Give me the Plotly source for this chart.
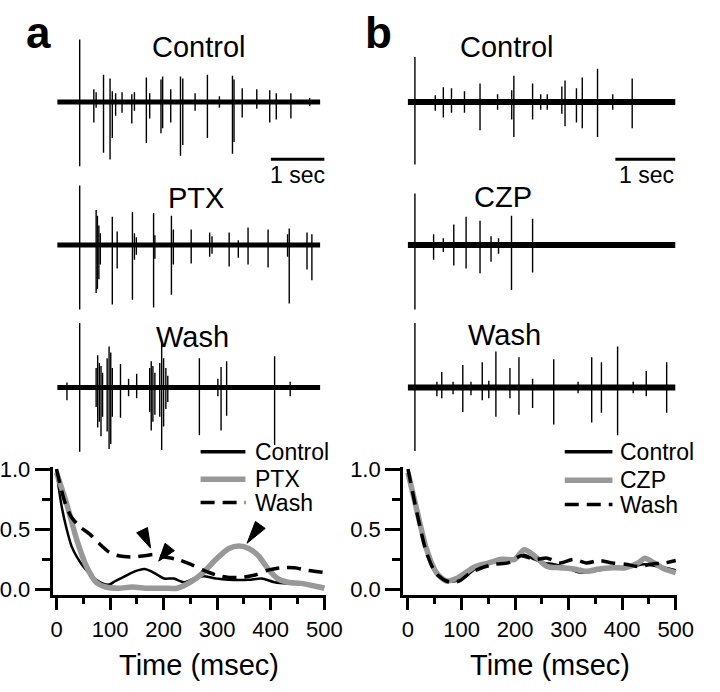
import plotly.graph_objects as go

# ---------------- DATA ----------------
# Extracellular traces: spike events (time s, upward amplitude, downward amplitude) in a.u.
TRACE_END_A = 4.91   # s
TRACE_END_B = 4.46   # s

STIM_A = [0.42, 0.42, 0.42]
STIM_A_UP = [64, 61, 66]
STIM_A_DN = [66, 66, 66]
STIM_B = [0.12, 0.12, 0.12]
STIM_B_UP = [46, 53, 66]
STIM_B_DN = [64, 66, 65]

ctrl_a_t = [0.684, 0.727, 0.865, 0.987, 1.029, 1.091, 1.211, 1.393, 1.442, 1.665, 1.727, 1.938, 1.969,
            2.12, 2.302, 2.345, 2.575, 2.805, 3.029, 3.273, 3.302, 3.455, 3.727, 3.969, 4.091, 4.364, 4.715]
ctrl_a_up = [13, 10, 28, 24, 11, 9, 10, 8, 10, 25, 9, 23, 26, 13, 26, 24, 9, 28, 6, 27, 23, 14, 13, 12, 9, 9, 4]
ctrl_a_dn = [21, 6, 52, 59, 37, 14, 11, 22, 9, 42, 17, 32, 27, 21, 55, 44, 9, 37, 6, 53, 41, 16, 7, 21, 18, 17, 4]

ptx_t = [0.727, 0.751, 0.778, 0.805, 1.029, 1.12, 1.405, 1.442, 1.478, 1.8, 1.824, 2.133, 2.169,
         2.502, 2.847, 2.891, 3.211, 3.382, 3.564, 3.938, 4.302, 4.333, 4.665, 4.756]
ptx_up = [36, 30, 20, 12, 29, 14, 34, 12, 8, 33, 10, 30, 16, 16, 13, 9, 13, 5, 18, 16, 11, 17, 13, 11]
ptx_dn = [49, 45, 35, 20, 61, 24, 56, 15, 10, 64, 14, 51, 20, 19, 12, 9, 22, 13, 20, 23, 12, 60, 25, 36]

wash_a_t = [0.182, 0.727, 0.756, 0.787, 0.818, 0.847, 0.933, 0.969, 1.0, 1.029, 1.182, 1.333, 1.484,
            1.727, 1.756, 1.787, 1.824, 1.915, 1.951, 1.987, 2.029, 2.065, 2.655, 3.0, 3.06, 3.164, 4.06, 4.351]
wash_a_up = [5, 20, 33, 25, 22, 15, 30, 42, 36, 20, 24, 9, 14, 20, 27, 22, 15, 25, 47, 30, 20, 12, 30, 9, 21, 27, 32, 6]
wash_a_dn = [13, 20, 41, 35, 50, 30, 45, 63, 58, 30, 31, 9, 11, 25, 44, 35, 28, 30, 64, 40, 22, 15, 49, 9, 44, 29, 59, 9]

ctrl_b_t = [0.459, 0.593, 0.729, 0.945, 1.204, 1.496, 1.731, 1.767, 2.079, 2.214, 2.323, 2.566, 2.619,
            2.809, 2.906, 3.16, 3.413, 3.737]
ctrl_b_up = [7, 15, 14, 11, 19, 8, 12, 27, 19, 8, 8, 16, 22, 14, 25, 34, 8, 24]
ctrl_b_dn = [9, 16, 11, 11, 29, 8, 18, 36, 18, 8, 8, 12, 25, 21, 27, 36, 8, 27]

czp_t = [0.431, 0.593, 0.767, 0.972, 1.204, 1.387, 1.512, 1.728, 2.079]
czp_up = [11, 7, 21, 29, 25, 9, 7, 30, 27]
czp_dn = [15, 7, 21, 24, 29, 17, 9, 46, 28]

wash_b_t = [0.486, 0.567, 0.755, 0.917, 1.053, 1.241, 1.35, 1.468, 1.702, 1.852, 2.079, 2.431, 2.836,
            3.063, 3.225, 3.494, 3.754, 3.971, 4.311]
wash_b_up = [6, 16, 6, 23, 6, 26, 7, 37, 20, 31, 9, 29, 6, 31, 26, 42, 6, 17, 26]
wash_b_dn = [9, 11, 7, 25, 8, 13, 11, 30, 11, 28, 21, 38, 6, 36, 26, 49, 6, 9, 26]

# Autocorrelograms (lag in msec, normalized value)
a_ctrl_lag = [0, 4, 10, 19, 28, 38, 50, 62, 74, 86, 98, 110, 128, 141, 153, 165, 177, 189, 201, 219,
              238, 256, 274, 298, 322, 359, 383, 407, 432, 462, 500]
a_ctrl_val = [1.0, 0.85, 0.68, 0.5, 0.36, 0.27, 0.19, 0.13, 0.08, 0.05, 0.04, 0.07, 0.11, 0.14, 0.16,
              0.17, 0.15, 0.12, 0.09, 0.09, 0.06, 0.09, 0.11, 0.09, 0.08, 0.08, 0.09, 0.06, 0.05, 0.05, 0.02]
a_ptx_lag = [0, 19, 38, 56, 74, 92, 116, 141, 171, 201, 225, 250, 274, 298, 322, 341, 359, 377, 395,
             413, 432, 456, 480, 500]
a_ptx_val = [0.97, 0.71, 0.41, 0.19, 0.06, 0.02, 0.01, 0.02, 0.01, 0.01, 0.01, 0.06, 0.14, 0.25, 0.34,
             0.36, 0.34, 0.28, 0.17, 0.09, 0.06, 0.05, 0.03, 0.01]
a_wash_lag = [0, 16, 28, 44, 62, 80, 98, 116, 141, 165, 183, 201, 225, 250, 274, 298, 322, 345, 371,
              395, 419, 444, 468, 500]
a_wash_val = [1.0, 0.72, 0.6, 0.52, 0.46, 0.38, 0.31, 0.28, 0.27, 0.28, 0.29, 0.27, 0.25, 0.21, 0.16,
              0.12, 0.10, 0.10, 0.12, 0.16, 0.18, 0.18, 0.16, 0.14]

b_ctrl_lag = [0, 17, 35, 53, 72, 90, 108, 126, 151, 175, 199, 214, 236, 254, 272, 296, 321, 345, 369,
              394, 418, 442, 467, 500]
b_ctrl_val = [1.0, 0.65, 0.33, 0.14, 0.07, 0.07, 0.11, 0.17, 0.22, 0.24, 0.25, 0.29, 0.25, 0.22, 0.21,
              0.18, 0.14, 0.15, 0.17, 0.18, 0.19, 0.21, 0.19, 0.16]
b_czp_lag = [0, 17, 35, 53, 72, 90, 108, 126, 151, 175, 199, 217, 236, 260, 284, 309, 333, 357, 382,
             406, 430, 442, 460, 479, 500]
b_czp_val = [0.97, 0.65, 0.33, 0.14, 0.07, 0.09, 0.14, 0.19, 0.22, 0.25, 0.25, 0.33, 0.28, 0.19, 0.18,
             0.17, 0.15, 0.17, 0.18, 0.18, 0.22, 0.26, 0.22, 0.17, 0.14]
b_wash_lag = [0, 17, 35, 53, 78, 96, 114, 138, 163, 187, 211, 236, 260, 284, 309, 333, 357, 382, 406,
              430, 454, 479, 500]
b_wash_val = [1.0, 0.63, 0.30, 0.13, 0.06, 0.07, 0.13, 0.18, 0.21, 0.22, 0.28, 0.25, 0.26, 0.22, 0.25,
              0.22, 0.24, 0.22, 0.21, 0.19, 0.21, 0.22, 0.24]

X_TICKS = [0, 100, 200, 300, 400, 500]
X_MINOR = [50, 150, 250, 350, 450]
Y_TICKS = [0.0, 0.5, 1.0]
Y_TICKTEXT = ["0.0", "0.5", "1.0"]
Y_MINOR = [0.25, 0.75]

# ---------------- STYLE / LAYOUT ----------------
W, H = 720, 692
FONT = "Liberation Sans, Arial, sans-serif"
GREY = "#989898"
OFFSETS = [0, -146.7, -292.7]   # vertical stacking of the three recordings (a.u.)


def pxx(x):
    return x / W


def pxy(y):
    return 1 - y / H


fig = go.Figure()


def add_recording(xa, ya, stim_t, stim_up, stim_dn, t, up, dn, off, end, bw):
    xs, ys = [], []
    for tt, u, d in zip([stim_t] + t, [stim_up] + up, [stim_dn] + dn):
        xs += [tt, tt, None]
        ys += [off + u, off - d, None]
    fig.add_trace(go.Scatter(x=[0, end], y=[off, off], mode="lines", xaxis=xa, yaxis=ya,
                             line=dict(color="black", width=bw), showlegend=False, hoverinfo="skip"))
    fig.add_trace(go.Scatter(x=xs, y=ys, mode="lines", xaxis=xa, yaxis=ya,
                             line=dict(color="black", width=1.4), showlegend=False, hoverinfo="skip"))


add_recording("x", "y", STIM_A[0], STIM_A_UP[0], STIM_A_DN[0], ctrl_a_t, ctrl_a_up, ctrl_a_dn, OFFSETS[0], TRACE_END_A, 5)
add_recording("x", "y", STIM_A[1], STIM_A_UP[1], STIM_A_DN[1], ptx_t, ptx_up, ptx_dn, OFFSETS[1], TRACE_END_A, 5)
add_recording("x", "y", STIM_A[2], STIM_A_UP[2], STIM_A_DN[2], wash_a_t, wash_a_up, wash_a_dn, OFFSETS[2], TRACE_END_A, 5)
add_recording("x2", "y2", STIM_B[0], STIM_B_UP[0], STIM_B_DN[0], ctrl_b_t, ctrl_b_up, ctrl_b_dn, OFFSETS[0], TRACE_END_B, 6)
add_recording("x2", "y2", STIM_B[1], STIM_B_UP[1], STIM_B_DN[1], czp_t, czp_up, czp_dn, OFFSETS[1], TRACE_END_B, 6)
add_recording("x2", "y2", STIM_B[2], STIM_B_UP[2], STIM_B_DN[2], wash_b_t, wash_b_up, wash_b_dn, OFFSETS[2], TRACE_END_B, 6)

STY_CTRL = dict(color="black", width=2.5)
STY_DRUG = dict(color=GREY, width=5.5)
STY_WASH = dict(color="black", width=3.5, dash="14px,8px")


def add_curve(xa, ya, lag, val, sty):
    fig.add_trace(go.Scatter(x=lag, y=val, mode="lines", xaxis=xa, yaxis=ya,
                             line=dict(shape="spline", smoothing=0.8, **sty),
                             showlegend=False, hoverinfo="skip"))


add_curve("x3", "y3", a_ctrl_lag, a_ctrl_val, STY_CTRL)
add_curve("x3", "y3", a_ptx_lag, a_ptx_val, STY_DRUG)
add_curve("x3", "y3", a_wash_lag, a_wash_val, STY_WASH)
add_curve("x4", "y4", b_ctrl_lag, b_ctrl_val, STY_CTRL)
add_curve("x4", "y4", b_czp_lag, b_czp_val, STY_DRUG)
add_curve("x4", "y4", b_wash_lag, b_wash_val, STY_WASH)

hidden = dict(visible=False, showgrid=False, zeroline=False, fixedrange=True)
TR_TOP, TR_BOT = 0, 460
YR = [94.3 - (TR_BOT - TR_TOP), 94.3]

PXMS = 0.55
PXUNIT = 123.3
Y0_PX = 594
AX_TOP = 1.02


def corr_xaxis(left_axis_px, zero_px):
    left_ms = -(zero_px - left_axis_px) / PXMS
    right_ms = 503
    return dict(domain=[pxx(left_axis_px), pxx(zero_px + right_ms * PXMS)], range=[left_ms, right_ms],
                showline=True, linecolor="black", linewidth=3, ticks="outside", ticklen=12, tickwidth=3,
                tickcolor="black", tickmode="array", tickvals=X_TICKS, showgrid=False, zeroline=False,
                tickfont=dict(size=22, color="black", family=FONT),
                minor=dict(tickmode="array", tickvals=X_MINOR, ticks="outside", ticklen=6, tickwidth=3,
                           tickcolor="black", showgrid=False))


ybot_val = -(600 - Y0_PX) / PXUNIT
corr_y = dict(domain=[pxy(600), pxy(Y0_PX - AX_TOP * PXUNIT)], range=[ybot_val, AX_TOP],
              showline=True, linecolor="black", linewidth=3, ticks="outside", ticklen=15, tickwidth=3,
              tickcolor="black", tickmode="array", tickvals=Y_TICKS, ticktext=Y_TICKTEXT,
              showgrid=False, zeroline=False, tickfont=dict(size=22, color="black", family=FONT),
              minor=dict(tickmode="array", tickvals=Y_MINOR, ticks="outside", ticklen=8, tickwidth=3,
                         tickcolor="black", showgrid=False))

xa3 = dict(corr_xaxis(52, 56), anchor="y3")
xa4 = dict(corr_xaxis(412, 417), anchor="y4")
ya3 = dict(corr_y, anchor="x3")
ya4 = dict(corr_y, anchor="x4")

fig.update_layout(
    width=W, height=H, margin=dict(l=0, r=0, t=0, b=0),
    paper_bgcolor="white", plot_bgcolor="rgba(0,0,0,0)",
    font=dict(family=FONT, color="black"),
    xaxis=dict(hidden, domain=[pxx(56.7), pxx(56.7 + 5.0 * 55)], range=[0, 5.0], anchor="y"),
    yaxis=dict(hidden, domain=[pxy(TR_BOT), pxy(TR_TOP)], range=YR, anchor="x"),
    xaxis2=dict(hidden, domain=[pxx(416.7), pxx(416.7 + 4.457 * 61.7)], range=[0, 4.457], anchor="y2"),
    yaxis2=dict(hidden, domain=[pxy(TR_BOT), pxy(TR_TOP)], range=YR, anchor="x2"),
    xaxis3=xa3, yaxis3=ya3, xaxis4=xa4, yaxis4=ya4,
    showlegend=False,
)

# scale bars (1 sec)
for xr, yr, t0 in (("x", "y", 3.99), ("x2", "y2", 3.457)):
    fig.add_shape(type="line", xref=xr, yref=yr, x0=t0, x1=t0 + 1.0, y0=94.3 - 153, y1=94.3 - 153,
                  line=dict(color="black", width=3))

# arrowheads (panel a)
ARROWS = [(175.8, 0.343, "M0,0 L-3.2,20.6 L-14,15.4 Z"),
          (190.9, 0.235, "M0,0 L15.7,10.5 L6.3,17.9 Z"),
          (355.8, 0.384, "M0,0 L18.2,14.8 L8.4,21.8 Z")]
for ax_, ay_, path in ARROWS:
    fig.add_shape(type="path", xref="x3", yref="y3", xsizemode="pixel", ysizemode="pixel",
                  xanchor=ax_, yanchor=ay_, path=path, fillcolor="black", line=dict(color="black", width=1))

# legends
LEG = [
    (204, 250, 258, [("Control", STY_CTRL, 453), ("PTX", STY_DRUG, 481), ("Wash", STY_WASH, 505)]),
    (578, 627, 633, [("Control", STY_CTRL, 453), ("CZP", STY_DRUG, 482), ("Wash", STY_WASH, 507)]),
]
for x0, x1, xt, items in LEG:
    for name, sty, yy in items:
        lw = sty["width"] + 1 if sty["color"] == "black" and "dash" not in sty else sty["width"]
        fig.add_shape(type="line", xref="paper", yref="paper", x0=pxx(x0), x1=pxx(x1), y0=pxy(yy), y1=pxy(yy),
                      line=dict(color=sty["color"], width=lw, dash=sty.get("dash", "solid")))
        fig.add_annotation(x=pxx(xt), y=pxy(yy), xref="paper", yref="paper", text=name, showarrow=False,
                           xanchor="left", yanchor="middle", font=dict(size=23, color="black", family=FONT))


def label(text, x, y, size, bold=False, anchor="center"):
    fig.add_annotation(x=pxx(x), y=pxy(y), xref="paper", yref="paper",
                       text=f"<b>{text}</b>" if bold else text, showarrow=False,
                       xanchor=anchor, yanchor="middle", font=dict(size=size, color="black", family=FONT))


label("a", 37, 23, 44, bold=True)
label("b", 387, 23, 44, bold=True)
label("Control", 202, 38, 29)
label("PTX", 199, 193, 29)
label("Wash", 196, 335, 29)
label("1 sec", 304, 169, 23)
label("Control", 519, 38, 29)
label("CZP", 515, 192, 29)
label("Wash", 516, 333, 29)
label("1 sec", 662, 169, 23)
label("Time (msec)", 202, 671, 29)
label("Time (msec)", 563, 671, 29)

POST = "document.body.style.margin='0';document.body.style.overflow='hidden';"
fig.write_html("out.html", config=dict(displayModeBar=False), post_script=POST)
